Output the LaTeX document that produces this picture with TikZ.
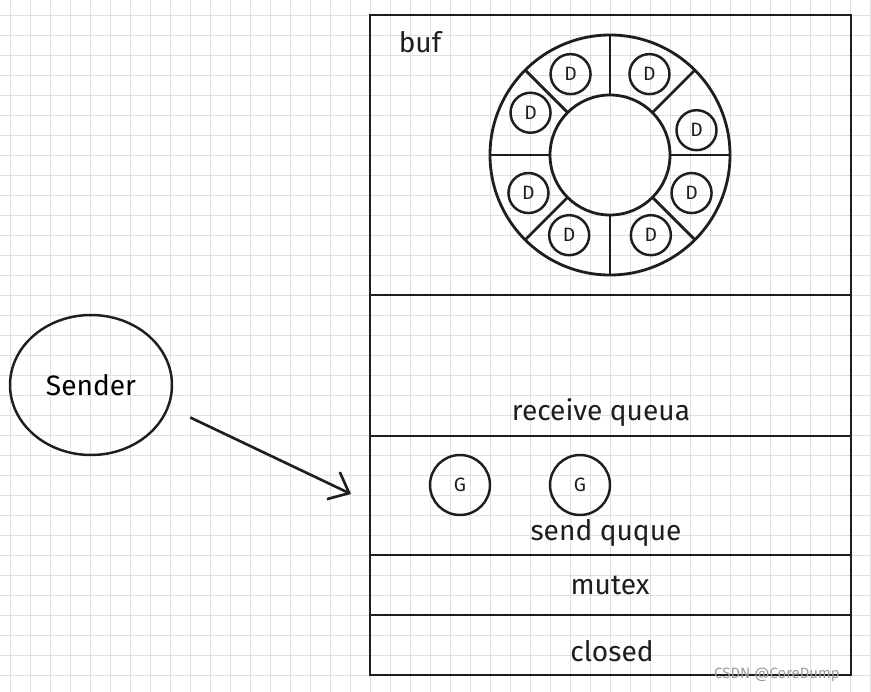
\documentclass[tikz,border=0pt]{standalone}
\usepackage{fontspec}
\setmainfont{Fira Sans}
\usepackage{tikz}
\usetikzlibrary{arrows.meta,calc,positioning,shapes.geometric}
\definecolor{SketchInk}{HTML}{1E1E1E}
\definecolor{SketchGrid}{HTML}{E0E0E0}
\definecolor{SketchMark}{HTML}{9A9A9A}
\tikzset{
  gridline/.style={draw=SketchGrid,line width=.5pt},
  part/.style={draw=SketchInk,line width=1.5pt},
  ringline/.style={draw=SketchInk,line width=1.6pt},
  label/.style={font=\fontsize{16}{19}\selectfont,text=SketchInk,inner sep=1pt},
  token/.style={
    circle,
    draw=SketchInk,
    line width=1.4pt,
    inner sep=0pt,
    font=\fontsize{11}{13}\selectfont,
    text=SketchInk
  },
  dtoken/.style={token,minimum size=8mm},
  gtoken/.style={token,minimum size=12mm},
  actor/.style={
    ellipse,
    draw=SketchInk,
    line width=1.4pt,
    minimum width=32.4mm,
    minimum height=28mm,
    font=\fontsize{16}{19}\selectfont
  },
  arrow/.style={-{Straight Barb[length=3.5mm,width=6mm]},draw=SketchInk,line width=1.5pt}
}

\begin{document}
\begin{tikzpicture}[x=.02cm,y=-.02cm]
  \useasboundingbox (0,0) rectangle (871,692);

  % Squared paper behind everything.
  \foreach \gx in {10,30,...,870}
    \draw[gridline] (\gx,0) -- (\gx,692);
  \foreach \gy in {15,35,...,675}
    \draw[gridline] (0,\gy) -- (871,\gy);

  % Channel structure and its fields.
  \draw[part] (370,15) rectangle (851,675);
  \foreach \dy in {295,436,555,615}
    \draw[part] (370,\dy) -- (851,\dy);
  \node[label] (buflabel) at (420,42) {buf};
  \node[label] (recvlabel) at (601,413) {receive queua};
  \node[label] (sendlabel) at (606,533) {send quque};
  \node[label] (mutexlabel) at (610,585) {mutex};
  \node[label] (closedlabel) at (612,651) {closed};

  % Ring buffer with eight slots.
  \coordinate (ringc) at (610,155);
  \draw[ringline] (ringc) circle[radius=120];
  \draw[ringline] (ringc) circle[radius=60];
  \foreach \a in {0,45,...,315}
    \draw[ringline] ($(ringc)+(\a:60)$) -- ($(ringc)+(\a:120)$);
  \foreach \a [count=\n] in {-16,-64,-116,-152,-205,-243,-297,-335}
    \node[dtoken] (d\n) at ($(ringc)+(\a:90)$) {D};

  % Goroutines waiting to send.
  \node[gtoken] (g1) at (460,485) {G};
  \node[gtoken] (g2) at (580,485) {G};

  % Sender pushing into the channel.
  \node[actor] (sender) at (91,385) {Sender};
  \coordinate (arrowtip) at (351,494);
  \draw[arrow,shorten <=4.7mm] (sender.-16) -- (arrowtip);

  \node[font=\fontsize{8.5}{10}\selectfont,text=SketchMark,anchor=east] (mark) at (846,675) {CSDN @CoreDump};
\end{tikzpicture}
\end{document}
